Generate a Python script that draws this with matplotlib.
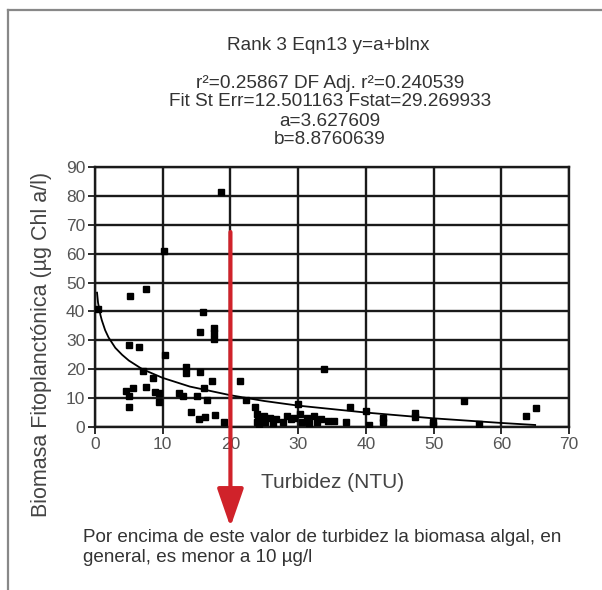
import matplotlib
matplotlib.use("Agg")
import matplotlib.pyplot as plt
from matplotlib.lines import Line2D
import numpy as np

plt.rcParams['font.family'] = ['Liberation Sans', 'DejaVu Sans']

# puntos medidos (turbidez NTU, biomasa µg Chl a/l)
turbidez = [0.5, 5.2, 7.6, 10.2, 18.6, 15.9, 15.5, 17.6, 17.6, 17.6,
            5.0, 6.5, 10.3, 7.1, 8.5, 13.5, 13.5, 15.5, 17.3, 16.1,
            4.6, 5.6, 5.0, 7.6, 8.8, 9.5, 9.4, 5.0, 12.4, 13.0,
            15.0, 16.6, 14.2, 15.4, 16.2, 17.7, 19.1, 21.4, 22.3,
            23.7, 23.9, 24.0, 23.9, 24.2, 24.9, 25.1, 25.8, 26.3, 26.8,
            27.7, 28.4, 28.9, 29.4, 30.0, 30.3, 30.6, 31.3, 31.6, 32.3,
            32.8, 33.4, 34.4, 35.3, 37.0, 37.6, 33.8,
            40.0, 40.4, 42.5, 42.5, 47.2, 47.2, 49.9, 49.9, 54.5, 56.7,
            63.6, 65.2]
biomasa = [41.0, 45.5, 47.8, 60.8, 81.3, 39.9, 32.8, 34.2, 32.5, 30.6,
           28.5, 27.6, 24.9, 19.5, 17.1, 20.8, 18.8, 19.0, 15.8, 13.6,
           12.4, 13.4, 10.6, 13.9, 12.1, 11.6, 8.5, 6.8, 11.9, 10.6,
           10.6, 9.2, 5.2, 2.9, 3.4, 4.3, 1.8, 16.0, 9.4,
           6.9, 4.5, 3.2, 1.9, 0.9, 3.9, 1.9, 3.2, 1.3, 2.6,
           1.9, 3.9, 2.6, 3.2, 8.0, 4.5, 1.9, 3.2, 1.3, 3.9,
           1.9, 2.6, 2.2, 2.2, 1.9, 6.9, 20.2,
           5.6, 0.6, 3.1, 1.9, 5.0, 3.5, 1.9, 0.6, 9.0, 0.9,
           3.8, 6.5]

# curva ajustada
curva_x = [0.3, 0.45, 0.6, 0.8, 1.0, 1.5, 2.0, 3.0, 4.0, 5.0, 7.0, 10.0,
           14.0, 20.0, 25.0, 30.0, 40.0, 50.0, 60.0, 65.0]
curva_y = [46.5, 43.0, 41.2, 38.8, 37.0, 33.5, 31.0, 27.4, 25.0, 23.0,
           20.0, 17.0, 14.0, 11.0, 9.0, 7.4, 5.0, 3.0, 1.4, 0.7]

titulo = "Rank 3 Eqn13 y=a+blnx"
estadisticas = ["r²=0.25867 DF Adj. r²=0.240539",
                "Fit St Err=12.501163 Fstat=29.269933",
                "a=3.627609",
                "b=8.8760639"]
nota = ["Por encima de este valor de turbidez la biomasa algal, en",
        "general, es menor a 10 µg/l"]

W, H = 602, 590
fig = plt.figure(figsize=(W / 100, H / 100), dpi=100)
fig.patch.set_facecolor('white')

def fx(px):
    return px / W

def fy(py):
    return 1 - py / H

ax = fig.add_axes([fx(95), fy(427), fx(569) - fx(95), fy(167) - fy(427)])
ax.set_xlim(0, 70)
ax.set_ylim(0, 90)
ax.set_xticks(np.arange(0, 71, 10))
ax.set_yticks(np.arange(0, 91, 10))
ax.grid(True, color='#1a1a1a', linewidth=1.7)
ax.set_axisbelow(True)
for s in ax.spines.values():
    s.set_color('#1a1a1a')
    s.set_linewidth(1.7)
ax.tick_params(direction='out', length=5, width=1.3, color='#1a1a1a',
               labelsize=12.5, labelcolor='#555555', pad=2)

ax.plot(curva_x, curva_y, color='black', linewidth=1.3, zorder=3)
ax.plot(turbidez, biomasa, 's', color='black', markersize=4.6, zorder=4)

# flecha roja en 20 NTU
ax.annotate('', xy=(20, fy(527)), xycoords=('data', 'figure fraction'),
            xytext=(20, 67.5), textcoords='data',
            arrowprops=dict(arrowstyle='-|>,head_length=1.3,head_width=0.45',
                            color='#d0222a', lw=3, mutation_scale=18,
                            shrinkA=0, shrinkB=0),
            annotation_clip=False, zorder=6)

fig.text(fx(328), fy(45), titulo, ha='center', va='center', fontsize=13.7, color='#333333')
for txt, py in zip(estadisticas, [83, 102, 122, 140]):
    fig.text(fx(330), fy(py), txt, ha='center', va='center', fontsize=13.7, color='#333333')

fig.text(fx(333), fy(483), "Turbidez (NTU)", ha='center', va='center', fontsize=15, color='#444444')
fig.text(fx(42), fy(344), "Biomasa Fitoplanctónica (µg Chl a/l)", ha='center', va='center',
         rotation=90, fontsize=15.5, color='#444444')

for txt, py in zip(nota, [537, 558]):
    fig.text(fx(83), fy(py), txt, ha='left', va='center', fontsize=13.6, color='#333333')

# marco
fig.add_artist(Line2D([fx(8), fx(8)], [0, fy(10)], color='#888888', linewidth=1.6))
fig.add_artist(Line2D([fx(8), 1], [fy(10), fy(10)], color='#888888', linewidth=1.6))

fig.savefig('out.png', dpi=100)
